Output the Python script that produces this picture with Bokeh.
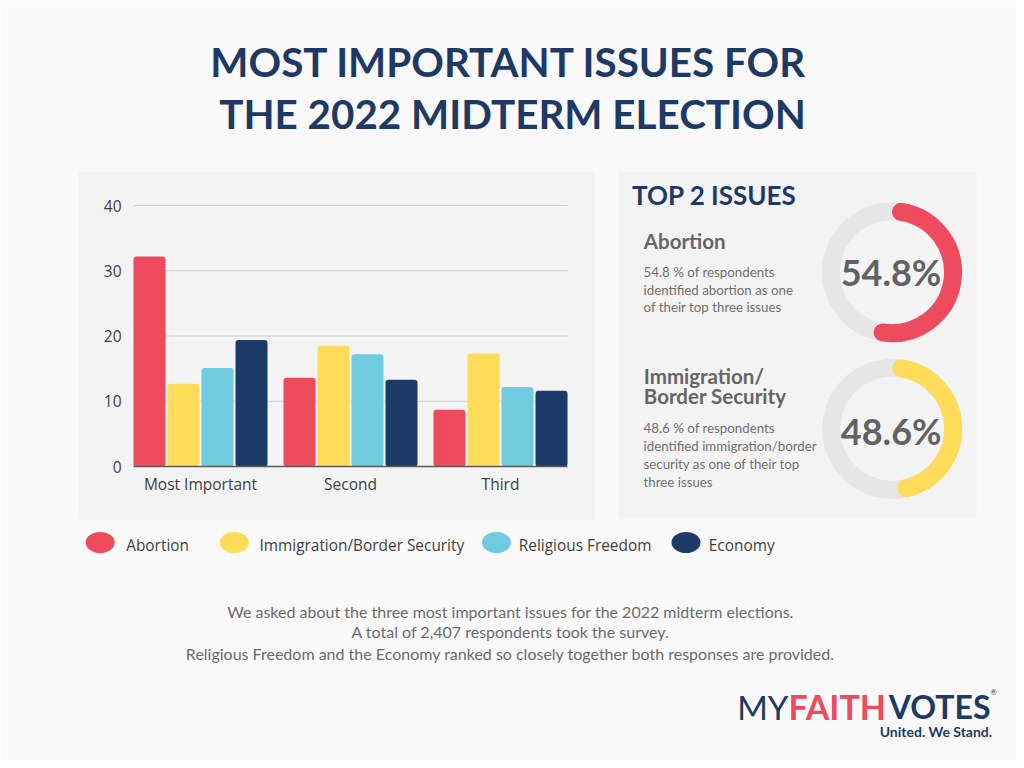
import numpy as np
from bokeh.plotting import figure
from bokeh.models import Range1d, FixedTicker, LinearAxis
from bokeh.core.properties import value
from bokeh.embed import file_html
from bokeh.resources import INLINE

# ---------------- data ----------------
categories = ["Most Important", "Second", "Third"]
series = ["Abortion", "Immigration/Border Security", "Religious Freedom", "Economy"]
abortion = [32.2, 13.6, 8.7]
immigration = [12.7, 18.5, 17.3]
religious_freedom = [15.1, 17.2, 12.2]
economy = [19.4, 13.3, 11.6]
y_ticks = [0, 10, 20, 30, 40]

top_issue_titles = [["Abortion"], ["Immigration/", "Border Security"]]
top_issue_pct = [54.8, 48.6]
top_issue_text = [
    ["54.8 % of respondents", "identified abortion as one", "of their top three issues"],
    ["48.6  % of respondents", "identified immigration/border", "security as one of their top", "three issues"],
]
title_lines = ["MOST IMPORTANT ISSUES FOR", "THE 2022 MIDTERM ELECTION"]
footer_lines = [
    "We asked about the three most important issues for the 2022 midterm elections.",
    "A total of 2,407 respondents took the survey.",
    "Religious Freedom and the Economy ranked so closely together both responses are provided.",
]

# ---------------- style ----------------
PAGE = "#F9F9F9"
PANEL = "#F3F3F3"
NAVY = "#1E3A64"
RED = "#EF4B5E"
YELLOW = "#FEDC5A"
CYAN = "#70CBDF"
DNAVY = "#1D3B68"
colors = [RED, YELLOW, CYAN, DNAVY]
values = [abortion, immigration, religious_freedom, economy]
ring_colors = [RED, YELLOW]

W, H = 1016, 760


def Y(ry):
    # page pixel row (from top) -> data y
    return H - ry


p = figure(width=W, height=H, x_range=Range1d(0, W), y_range=Range1d(0, H),
           output_backend="svg", toolbar_location=None, min_border=0,
           x_axis_type=None, y_axis_type=None,
           background_fill_color=PAGE, border_fill_color=PAGE, outline_line_color=None)
p.grid.visible = False


def txt(x, ry, s, size, color, style="normal", align="left", font="Lato"):
    p.text(x=[x], y=[Y(ry)], text=[s], text_font=value(font), text_font_size=f"{size}px",
           text_font_style=style, text_color=color, text_align=align, text_baseline="middle")


# ---------------- title ----------------
for s, cx, cy in zip(title_lines, [508.5, 512], [60.7, 113]):
    txt(cx, cy, s, 40.4, NAVY, style="bold", align="center")

# ---------------- panels ----------------
p.quad(left=[78, 618], right=[594, 976], top=[Y(171), Y(171)], bottom=[Y(519), Y(518)],
       fill_color=PANEL, line_color=None)

# ---------------- bar chart (own scales) ----------------
PX_X = 150.0          # pixels per category
PX_Y = 6.525          # pixels per percentage point
PLOT_LEFT, PLOT_ZERO = 133, 466
SLOT = 34 / PX_X
BW = 32 / PX_X
HALF = 67 / PX_X
n = len(series)
xc = np.arange(1, len(categories) + 1)
x_lo = 1 - HALF
x_hi = len(categories) + HALF
p.extra_x_ranges = {"bars": Range1d(x_lo - PLOT_LEFT / PX_X, x_lo + (W - PLOT_LEFT) / PX_X)}
p.extra_y_ranges = {"bars": Range1d(-(H - PLOT_ZERO) / PX_Y, PLOT_ZERO / PX_Y)}

p.segment(x0=[x_lo] * len(y_ticks), x1=[x_hi] * len(y_ticks), y0=y_ticks, y1=y_ticks,
          x_range_name="bars", y_range_name="bars", line_color="#CFCFCF", line_width=1)

for i, (name, vals, col) in enumerate(zip(series, values, colors)):
    p.vbar(x=xc + (i - (n - 1) / 2) * SLOT, top=vals, bottom=0, width=BW,
           x_range_name="bars", y_range_name="bars",
           fill_color=col, line_color=None, border_radius=3)

yax = LinearAxis(x_range_name="bars", y_range_name="bars", fixed_location=x_lo,
                 ticker=FixedTicker(ticks=y_ticks))
xax = LinearAxis(x_range_name="bars", y_range_name="bars", fixed_location=0,
                 ticker=FixedTicker(ticks=[float(v) for v in xc]), bounds=(x_lo, x_hi))
xax.major_label_overrides = {int(v): c for v, c in zip(xc, categories)}
for ax in (xax, yax):
    ax.major_tick_line_color = None
    ax.minor_tick_line_color = None
    ax.major_label_text_font = "Open Sans"
    ax.major_label_text_font_size = "15.5px"
    ax.major_label_text_color = "#3F3F3F"
xax.axis_line_color = "#5A5A5A"
xax.axis_line_width = 1.5
xax.major_label_standoff = 0
yax.axis_line_color = None
yax.major_label_standoff = 6
p.add_layout(yax, "left")
p.add_layout(xax, "below")

# ---------------- right panel: top 2 issues ----------------
txt(631.5, 194, "TOP 2 ISSUES", 26, NAVY, style="bold")

ring_centers = [(891.5, 271.7), (891.7, 428.3)]
head_rows = [[240.3], [375, 395]]
body_rows = [[271.3, 289, 306.7], [427, 445, 463, 481]]
pct_rows = [271.7, 430]
R_OUT, R_IN = 70, 52
R_MID = (R_OUT + R_IN) / 2
CAP = (R_OUT - R_IN) / 2 / R_MID
for k in range(len(top_issue_pct)):
    cx, cy = ring_centers[k]
    p.annulus(x=[cx], y=[Y(cy)], inner_radius=R_IN, outer_radius=R_OUT,
              fill_color="#E6E6E6", line_color=None)
    sweep = top_issue_pct[k] / 100 * 2 * np.pi
    p.arc(x=[cx], y=[Y(cy)], radius=R_MID,
          start_angle=np.pi / 2 - CAP, end_angle=np.pi / 2 - (sweep - CAP),
          direction="clock", line_color=ring_colors[k], line_width=R_OUT - R_IN,
          line_cap="round")
    txt(cx - 1, pct_rows[k], f"{top_issue_pct[k]}%", 36, "#626262", style="bold", align="center")
    for s, ry in zip(top_issue_titles[k], head_rows[k]):
        txt(643.3, ry, s, 20.5, "#656565", style="bold")
    for s, ry in zip(top_issue_text[k], body_rows[k]):
        txt(643, ry, s, 13.3, "#707070")

# ---------------- legend ----------------
legend_mx = [99.7, 233.8, 496, 685.5]
legend_tx = [125.7, 259, 518.3, 708.3]
for name, col, mx, tx in zip(series, colors, legend_mx, legend_tx):
    p.ellipse(x=[mx], y=[Y(542)], width=29, height=21, fill_color=col, line_color=None)
    txt(tx, 544.5, name, 15.4, "#3F3F3F", font="Open Sans")

# ---------------- footer ----------------
for s, ry in zip(footer_lines, [610.5, 631, 652.5]):
    txt(510, ry, s, 16, "#6B6B6B", align="center")

# ---------------- logo ----------------
txt(736.7, 706, "MY", 33, NAVY)
txt(788, 706, "FAITH", 34, RED, style="bold")
txt(990, 706, "VOTES", 32, NAVY, style="bold", align="right")
txt(993, 691, "\u00ae", 8, NAVY, align="center")
txt(991.7, 731, "United. We Stand.", 14, NAVY, style="bold", align="right")

open("out.html", "w").write(file_html(p, INLINE))
